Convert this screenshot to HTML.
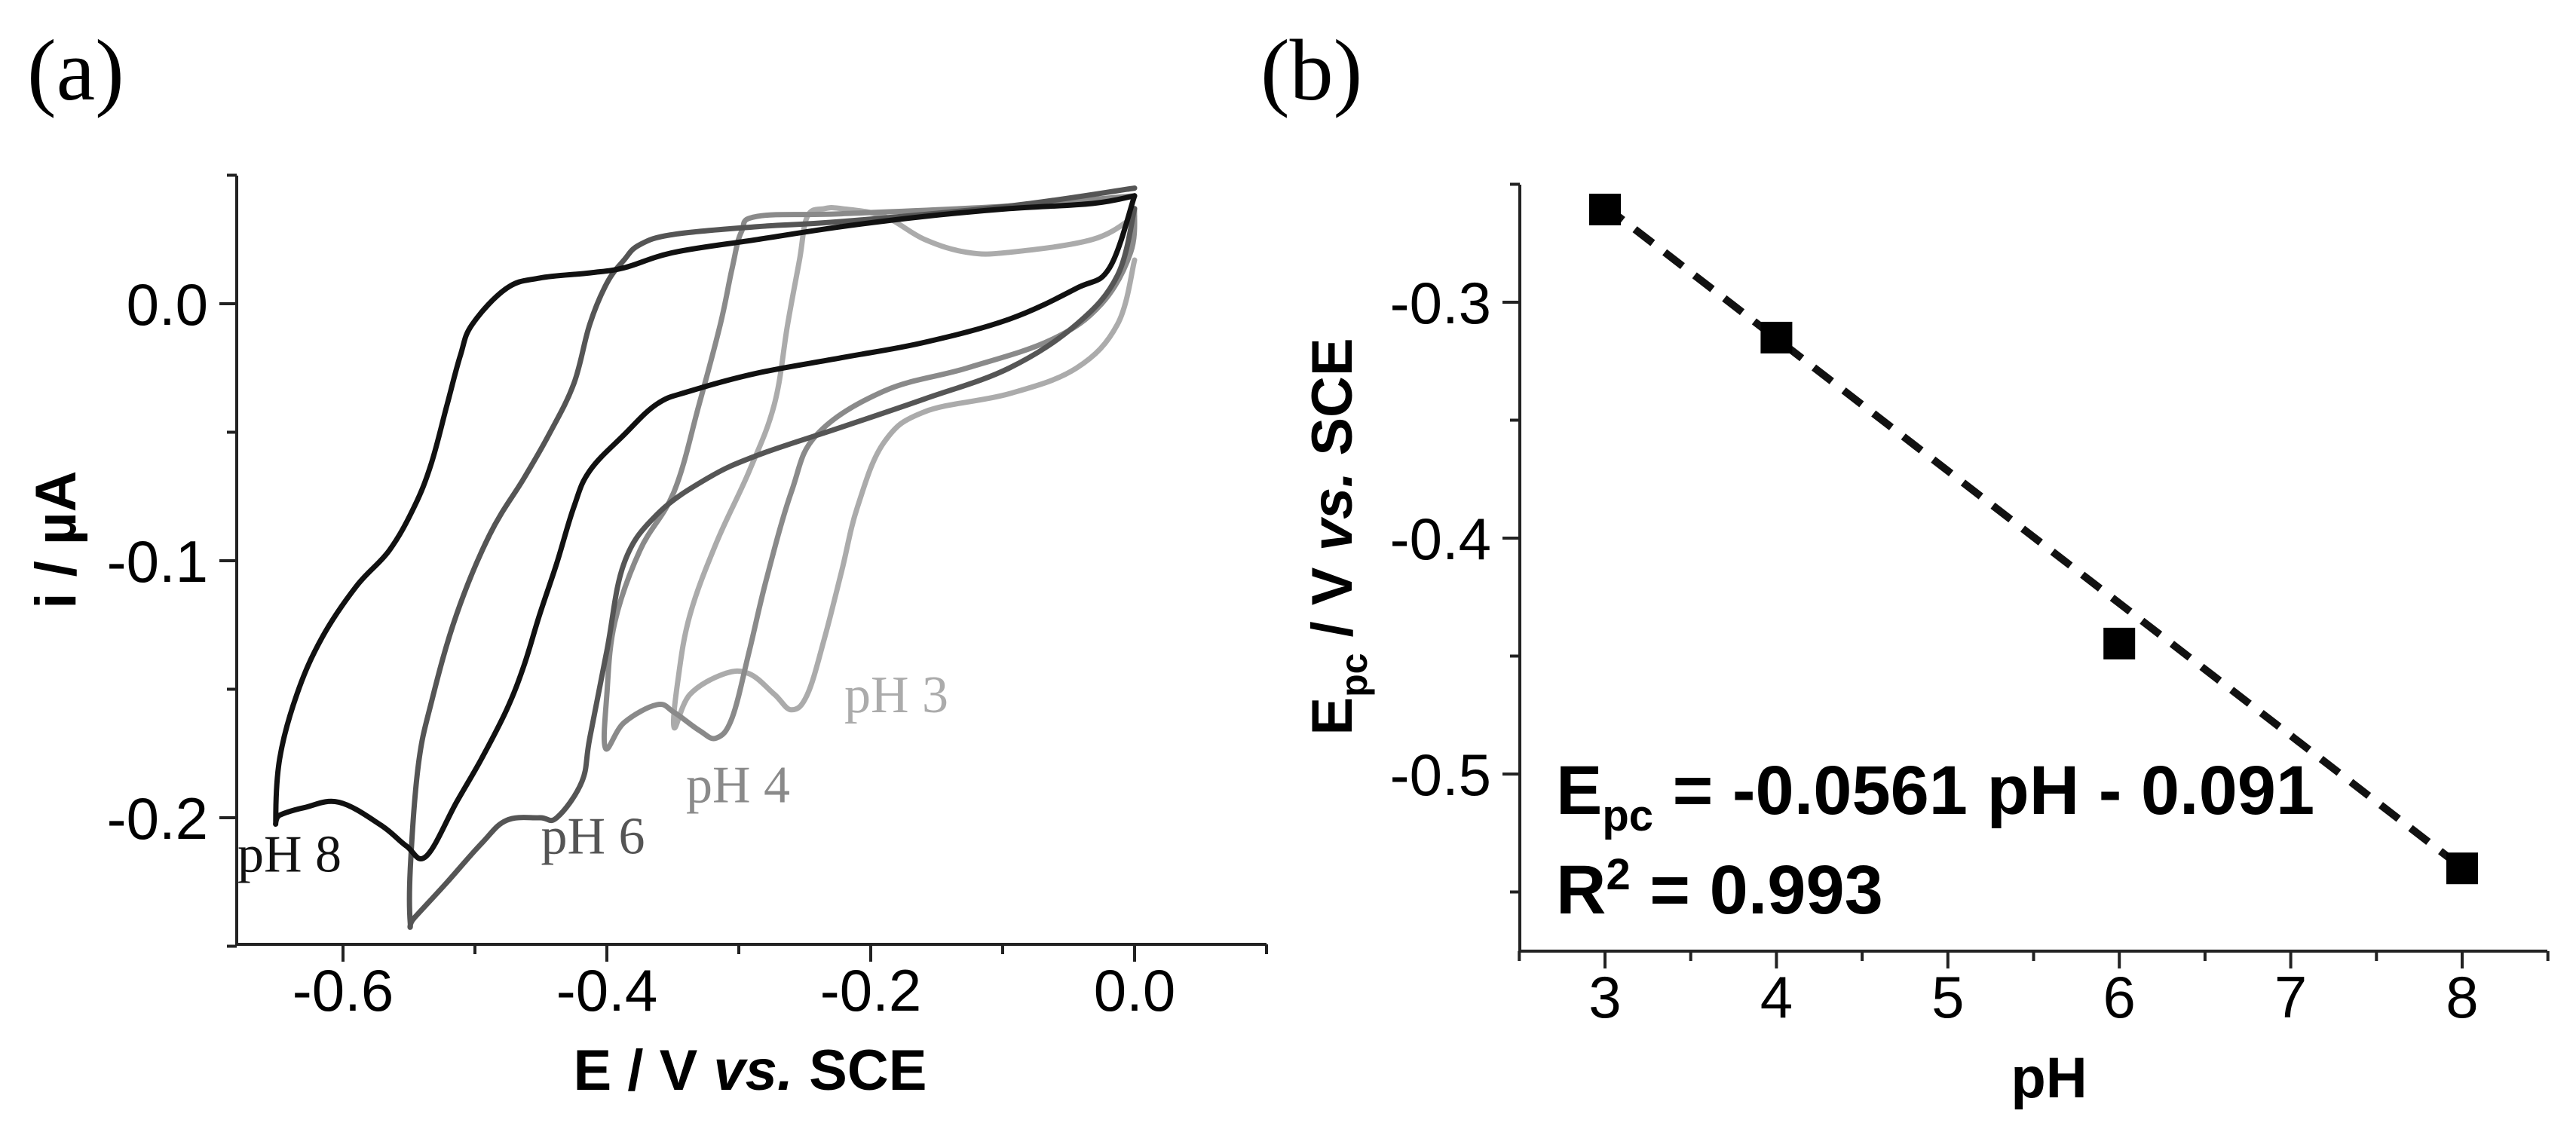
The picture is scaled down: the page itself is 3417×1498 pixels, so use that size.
<!DOCTYPE html>
<html><head><meta charset="utf-8"><style>
html,body{margin:0;padding:0;background:#fff}
svg{display:block}
text{font-family:"Liberation Sans",Arial,sans-serif}
</style></head><body>
<svg id="fig" width="3417" height="1498" viewBox="0 0 3417 1498" xmlns="http://www.w3.org/2000/svg">
<text x="36" y="132" font-size="116" style="font-family:'Liberation Serif',serif">(a)</text>
<text x="1672" y="132" font-size="116" style="font-family:'Liberation Serif',serif">(b)</text>
<g id="ga"></g>
<g id="gb"></g>
</svg>
<script>
const NS="http://www.w3.org/2000/svg";
// ---- Panel (a) data ----
const cvLabels=["pH 8","pH 6","pH 4","pH 3"];
const cvColors=["#111111","#555555","#8a8a8a","#ababab"];
const ph8E=[0,-0.019,-0.044,-0.095,-0.159,-0.222,-0.286,-0.337,-0.362,-0.387,-0.413,-0.425,-0.438,-0.451,-0.463,-0.476,-0.495,-0.514,-0.537,-0.552,-0.571,-0.603,-0.629,-0.648,-0.651,-0.648,-0.635,-0.616,-0.590,-0.565,-0.546,-0.533,-0.521,-0.511,-0.502,-0.476,-0.451,-0.413,-0.387,-0.349,-0.286,-0.222,-0.159,-0.095,-0.032,0];
const ph8I=[0.042,0.014,0.006,-0.006,-0.015,-0.021,-0.027,-0.034,-0.039,-0.051,-0.065,-0.079,-0.101,-0.121,-0.141,-0.158,-0.177,-0.194,-0.215,-0.211,-0.203,-0.194,-0.196,-0.199,-0.201,-0.177,-0.152,-0.130,-0.110,-0.096,-0.079,-0.062,-0.039,-0.020,-0.008,0.006,0.010,0.012,0.014,0.020,0.025,0.030,0.034,0.037,0.039,0.042];
const ph6E=[0,-0.095,-0.222,-0.286,-0.349,-0.375,-0.387,-0.400,-0.413,-0.425,-0.444,-0.463,-0.489,-0.514,-0.533,-0.543,-0.549,-0.549,-0.546,-0.521,-0.495,-0.476,-0.451,-0.438,-0.419,-0.413,-0.400,-0.387,-0.362,-0.324,-0.286,-0.222,-0.159,-0.095,-0.044,-0.013,0];
const ph6I=[0.045,0.038,0.032,0.030,0.027,0.023,0.017,0.008,-0.008,-0.031,-0.051,-0.068,-0.090,-0.121,-0.155,-0.180,-0.220,-0.241,-0.239,-0.225,-0.210,-0.201,-0.200,-0.200,-0.186,-0.169,-0.135,-0.101,-0.082,-0.068,-0.059,-0.048,-0.037,-0.025,-0.008,0.011,0.037];
const ph4E=[0,-0.095,-0.222,-0.286,-0.298,-0.305,-0.314,-0.330,-0.349,-0.375,-0.394,-0.400,-0.401,-0.387,-0.362,-0.349,-0.330,-0.317,-0.305,-0.292,-0.279,-0.260,-0.241,-0.190,-0.127,-0.063,-0.025,-0.003,0];
const ph4I=[0.042,0.038,0.035,0.034,0.028,0.014,-0.008,-0.039,-0.073,-0.096,-0.124,-0.152,-0.173,-0.163,-0.156,-0.159,-0.166,-0.169,-0.161,-0.135,-0.107,-0.073,-0.051,-0.034,-0.025,-0.014,0,0.020,0.037];
const ph3E=[0,-0.032,-0.095,-0.127,-0.159,-0.190,-0.222,-0.235,-0.248,-0.254,-0.263,-0.273,-0.292,-0.317,-0.337,-0.346,-0.349,-0.337,-0.311,-0.292,-0.273,-0.260,-0.248,-0.235,-0.222,-0.210,-0.190,-0.159,-0.095,-0.044,-0.013,0];
const ph3I=[0.034,0.025,0.020,0.020,0.025,0.034,0.037,0.037,0.034,0.017,-0.008,-0.039,-0.065,-0.093,-0.121,-0.146,-0.165,-0.152,-0.144,-0.144,-0.152,-0.158,-0.152,-0.130,-0.104,-0.079,-0.054,-0.042,-0.035,-0.025,-0.008,0.017];
const cvXTicks=[-0.6,-0.4,-0.2,0.0];
const cvXTickLabels=["-0.6","-0.4","-0.2","0.0"];
const cvYTicks=[0.0,-0.1,-0.2];
const cvYTickLabels=["0.0","-0.1","-0.2"];
const cvLabelE=[-0.68,-0.45,-0.34,-0.22];
const cvLabelI=[-0.221,-0.214,-0.194,-0.159];
// ---- Panel (b) data ----
const phValues=[3,4,6,8];
const epcValues=[-0.2607,-0.315,-0.4447,-0.540];
const fitSlope=-0.0561, fitIntercept=-0.091;
const bXTicks=[3,4,5,6,7,8];
const bYTicks=[-0.3,-0.4,-0.5];
const bYTickLabels=["-0.3","-0.4","-0.5"];

function mk(tag,attrs,parent){const e=document.createElementNS(NS,tag);for(const k in attrs)e.setAttribute(k,attrs[k]);parent.appendChild(e);return e;}
function smoothPath(P){
  let d=`M${P[0][0].toFixed(1)},${P[0][1].toFixed(1)}`;
  for(let i=0;i<P.length-1;i++){
    const p0=P[Math.max(0,i-1)],p1=P[i],p2=P[i+1],p3=P[Math.min(P.length-1,i+2)];
    const t=0.18;
    const c1=[p1[0]+(p2[0]-p0[0])*t,p1[1]+(p2[1]-p0[1])*t];
    const c2=[p2[0]-(p3[0]-p1[0])*t,p2[1]-(p3[1]-p1[1])*t];
    d+=` C${c1[0].toFixed(1)},${c1[1].toFixed(1)} ${c2[0].toFixed(1)},${c2[1].toFixed(1)} ${p2[0].toFixed(1)},${p2[1].toFixed(1)}`;
  }
  return d;
}

// ---------- Panel a ----------
const ga=document.getElementById('ga');
const ax=v=>1505+v*1750, ay=v=>403-v*3410;
const aL=314,aR=1680,aT=233,aB=1253;
const series=[[ph8E,ph8I],[ph6E,ph6I],[ph4E,ph4I],[ph3E,ph3I]];
for(let s=series.length-1;s>=0;s--){
  const [E,I]=series[s];
  const P=E.map((e,k)=>[ax(e),ay(I[k])]);
  const p=mk('path',{d:smoothPath(P),fill:'none',stroke:cvColors[s],'stroke-width':7,'stroke-linejoin':'round','stroke-linecap':'round'},ga);
  
  
  const t=mk('text',{x:ax(cvLabelE[s]),y:ay(cvLabelI[s]),'font-size':70,fill:cvColors[s],style:"font-family:'Liberation Serif',serif"},ga);
  t.textContent=cvLabels[s];
  
  
}
let axl=mk('path',{d:`M${aL},${aT} V${aB} H${aR}`,fill:'none',stroke:'#222','stroke-width':4},ga);


for(let v=-0.6;v<=0.101;v+=0.1){const x=ax(v);const major=Math.abs(Math.round(v*10))%2===0;mk('line',{x1:x,x2:x,y1:aB,y2:aB+(major?23:13),stroke:'#222','stroke-width':4},ga);}
for(let v=0.05;v>=-0.251;v-=0.05){const y=ay(v);const major=Math.abs(Math.round(v*20))%2===0;mk('line',{x1:aL,x2:aL-(major?23:13),y1:y,y2:y,stroke:'#222','stroke-width':4},ga);}
cvXTicks.forEach((v,k)=>{const t=mk('text',{x:ax(v),y:aB+88,'font-size':78,'text-anchor':'middle'},ga);t.textContent=cvXTickLabels[k];

});
cvYTicks.forEach((v,k)=>{const t=mk('text',{x:aL-38,y:ay(v)+28,'font-size':78,'text-anchor':'end'},ga);t.textContent=cvYTickLabels[k];

});
let xt=mk('text',{x:995,y:1446,'font-size':76,'font-weight':'bold','text-anchor':'middle'},ga);
xt.innerHTML='E / V <tspan font-style="italic">vs.</tspan> SCE';


let yt=mk('text',{x:0,y:0,'font-size':76,'font-weight':'bold','text-anchor':'middle',transform:'translate(100,716) rotate(-90)'},ga);
yt.textContent='i / µA';



// ---------- Panel b ----------
const gb=document.getElementById('gb');
const bx=p=>2129+(p-3)*227.4, by=v=>401-(v+0.3)*3130;
const bL=2016,bR=3379,bT=245,bB=1262;
let bax=mk('path',{d:`M${bL},${bT} V${bB} H${bR}`,fill:'none',stroke:'#222','stroke-width':4},gb);


for(let p=2.5;p<=8.51;p+=0.5){const x=bx(p);const major=Math.abs(p-Math.round(p))<0.01;mk('line',{x1:x,x2:x,y1:bB,y2:bB+(major?23:13),stroke:'#222','stroke-width':4},gb);}
for(let v=-0.25;v>=-0.576;v-=0.05){const y=by(v);const major=Math.abs(Math.round(v*20))%2===0;mk('line',{x1:bL,x2:bL-(major?23:13),y1:y,y2:y,stroke:'#222','stroke-width':4},gb);}
bXTicks.forEach(p=>{const t=mk('text',{x:bx(p),y:bB+88,'font-size':78,'text-anchor':'middle'},gb);t.textContent=String(p);

});
bYTicks.forEach((v,k)=>{const t=mk('text',{x:bL-38,y:by(v)+28,'font-size':78,'text-anchor':'end'},gb);t.textContent=bYTickLabels[k];

});
const p0=phValues[0],p1=phValues[phValues.length-1];
let fl=mk('line',{x1:bx(p0),y1:by(fitSlope*p0+fitIntercept),x2:bx(p1),y2:by(fitSlope*p1+fitIntercept),stroke:'#111','stroke-width':10,'stroke-dasharray':'30 20'},gb);


phValues.forEach((p,k)=>{const r=mk('rect',{x:bx(p)-21,y:by(epcValues[k])-21,width:42,height:42,fill:'#000'},gb);

});
let eq=mk('text',{x:2064,y:1080,'font-size':92,'font-weight':'bold'},gb);
eq.innerHTML='E<tspan font-size="58" dy="22">pc</tspan><tspan dy="-22"> = -0.0561 pH - 0.091</tspan>';


let r2=mk('text',{x:2064,y:1212,'font-size':92,'font-weight':'bold'},gb);
r2.innerHTML='R<tspan font-size="58" dy="-32">2</tspan><tspan dy="32"> = 0.993</tspan>';


let bxt=mk('text',{x:2718,y:1456,'font-size':76,'font-weight':'bold','text-anchor':'middle'},gb);
bxt.textContent='pH';


let byt=mk('text',{x:0,y:0,'font-size':76,'font-weight':'bold','text-anchor':'middle',transform:'translate(1793,712) rotate(-90)'},gb);
byt.innerHTML='E<tspan font-size="50" dy="20">pc</tspan><tspan dy="-20"> / V </tspan><tspan font-style="italic">vs.</tspan> SCE';


</script>
</body></html>
